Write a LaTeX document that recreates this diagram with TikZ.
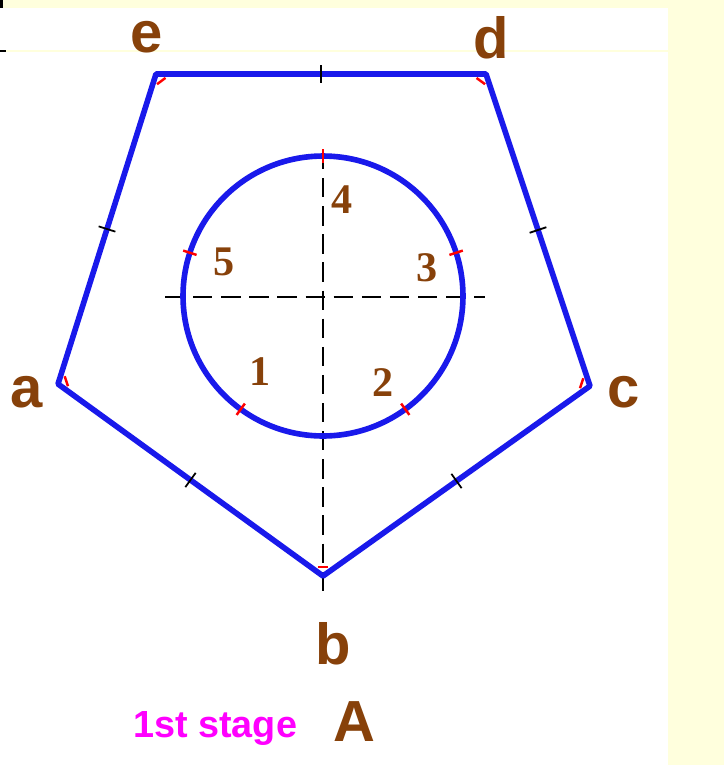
\documentclass[tikz,border=0pt]{standalone}
\usepackage{fontspec}
\setmainfont{Liberation Serif}
\setsansfont{Liberation Sans}
\usetikzlibrary{positioning,calc}
\definecolor{penblue}{RGB}{25,25,235}
\definecolor{labelbrown}{RGB}{135,65,10}
\definecolor{slidecream}{RGB}{255,255,221}
\definecolor{stagepink}{RGB}{255,0,255}

\begin{document}
\begin{tikzpicture}[x=0.02cm, y=-0.02cm,
  outline/.style={penblue, line width=3.2pt, line join=round},
  axis/.style={black, line width=0.8pt, dash pattern=on 11pt off 5pt},
  vlabel/.style={font=\sffamily\bfseries\fontsize{33}{33}\selectfont, text=labelbrown, inner sep=0pt},
  plabel/.style={font=\bfseries\fontsize{24}{24}\selectfont, text=labelbrown, inner sep=0pt},
  edgetick/.style={black, line width=1pt},
  redmark/.style={red, line width=1.4pt},
]
\useasboundingbox (0,0) rectangle (724,765);
% slide background
\fill[slidecream] (0,0) rectangle (724,765);
\fill[white] (0,8) rectangle (668,765);
\draw[slidecream, line width=0.6pt] (0,51) -- (668,51);
\fill[black] (0,0) rectangle (3,8);
\fill[black] (0,50) rectangle (6,52);

% pentagon corners and circle centre
\coordinate (a) at (58,384);
\coordinate (b) at (323,576);
\coordinate (c) at (590,386);
\coordinate (d) at (486,74);
\coordinate (e) at (156,74);
\coordinate (o) at (323,296);
\coordinate (p4) at ($(o)+(90:2.8cm)$);
\coordinate (p3) at ($(o)+(18:2.8cm)$);
\coordinate (p2) at ($(o)+(-54:2.8cm)$);
\coordinate (p1) at ($(o)+(-126:2.8cm)$);
\coordinate (p5) at ($(o)+(162:2.8cm)$);

% centre lines
\coordinate (hl) at (165,297);
\coordinate (hr) at (485,297);
\coordinate (vt) at (323,150);
\coordinate (vb) at (323,598);
\draw[axis] (hl) -- (hr);
\draw[axis] (vt) -- (vb);

\draw[outline] (a) -- (b) -- (c) -- (d) -- (e) -- cycle;
\draw[outline] (o) circle[radius=2.8cm];

% small marks
\foreach \p/\q in {e/d,d/c,c/b,b/a,a/e}
  \draw[edgetick] ($(\p)!0.5!(\q)!5pt!90:(\q)$) -- ($(\p)!0.5!(\q)!5pt!-90:(\q)$);
\foreach \v in {a,b,c,d,e}
  \draw[redmark] ($(\v)!5pt!(o)!3pt!90:(o)$) -- ($(\v)!5pt!(o)!3pt!-90:(o)$);
\foreach \v in {p1,p2,p3,p4,p5}
  \draw[redmark] ($(\v)!-4pt!(o)$) -- ($(\v)!4pt!(o)$);

% corner letters
\node[vlabel] (le) at (147,37) {e};
\node[vlabel] (ld) at (491,38) {d};
\node[vlabel] (la) at (27,392) {a};
\node[vlabel] (lc) at (624,392) {c};
\node[vlabel] (lb) at (333,644) {b};

% division numbers
\node[plabel] (n1) at (260,372) {1};
\node[plabel] (n2) at (383,383) {2};
\node[plabel] (n3) at (427,268) {3};
\node[plabel] (n4) at (342,200) {4};
\node[plabel] (n5) at (224,262) {5};

\node[font=\sffamily\bfseries\fontsize{21.5}{22}\selectfont, text=stagepink, anchor=base west, inner sep=0pt] (stage) at (133,737) {1st stage};
\node[vlabel, anchor=base] (stageA) at (354,741) {A};
\end{tikzpicture}
\end{document}
